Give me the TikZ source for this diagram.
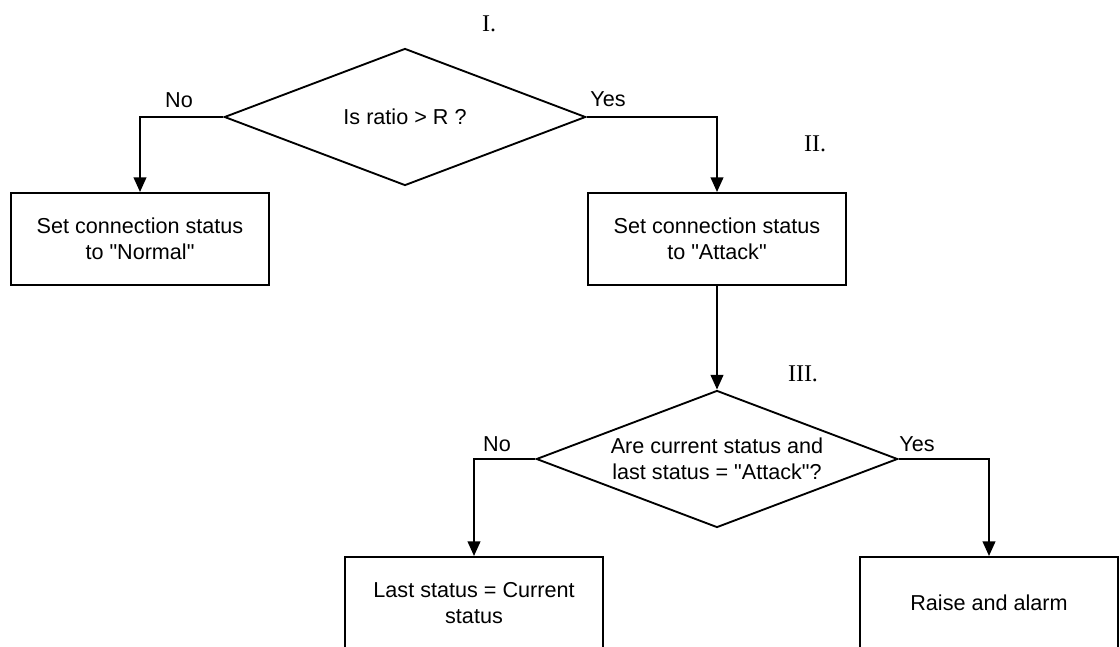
\documentclass[tikz,border=0pt]{standalone}
\usepackage{fontspec}
\setmainfont{Liberation Sans}
\newfontfamily\numfont{Liberation Serif}
\usetikzlibrary{shapes.geometric,arrows.meta}
\newcommand{\q}{\textquotedbl}
\begin{document}
\begin{tikzpicture}[x=0.75pt,y=-0.75pt,
  every node/.style={font=\fontsize{16.2}{19.5}\selectfont},
  procbox/.style={draw,line width=1.5pt,minimum width=193.5pt,minimum height=69pt,align=center,inner sep=0pt},
  decision/.style={draw,diamond,line width=1.4pt,minimum width=271pt,minimum height=102.75pt,aspect=2.63,inner sep=0pt,align=center},
  flow/.style={line width=1.5pt,-{Triangle[length=11pt,width=9.5pt]}},
  lbl/.style={inner sep=0pt},
  stepnum/.style={inner sep=0pt,font=\numfont\fontsize{18}{20}\selectfont}]
\useasboundingbox (0,0) rectangle (1120,646);
\clip (0,0) rectangle (1120,646);
% decisions
\node[decision] (d1) at (405,117) {Is ratio > R ?};
\node[decision] (d2) at (717,459) {Are current status and\\last status = \q Attack\q ?};
% boxes
\node[procbox] (b1) at (140,239) {Set connection status\\to \q Normal\q};
\node[procbox] (b2) at (717,239) {Set connection status\\to \q Attack\q};
\node[procbox] (b3) at (474,603) {Last status = Current\\status};
\node[procbox] (b4) at (989,603) {Raise and alarm};
% step numbers
\node[stepnum] (s1) at (489,24) {I.};
\node[stepnum] (s2) at (815,144) {II.};
\node[stepnum] (s3) at (803,374) {III.};
% branch labels
\node[lbl] (n1) at (179,100) {No};
\node[lbl] (y1) at (608,99) {Yes};
\node[lbl] (n2) at (497,444) {No};
\node[lbl] (y2) at (917,444) {Yes};
% connectors
\draw[flow] (d1.west) -| (b1.north);
\draw[flow] (d1.east) -| (b2.north);
\draw[flow] (b2.south) -- (d2.north);
\draw[flow] (d2.west) -| (b3.north);
\draw[flow] (d2.east) -| (b4.north);
\end{tikzpicture}
\end{document}
